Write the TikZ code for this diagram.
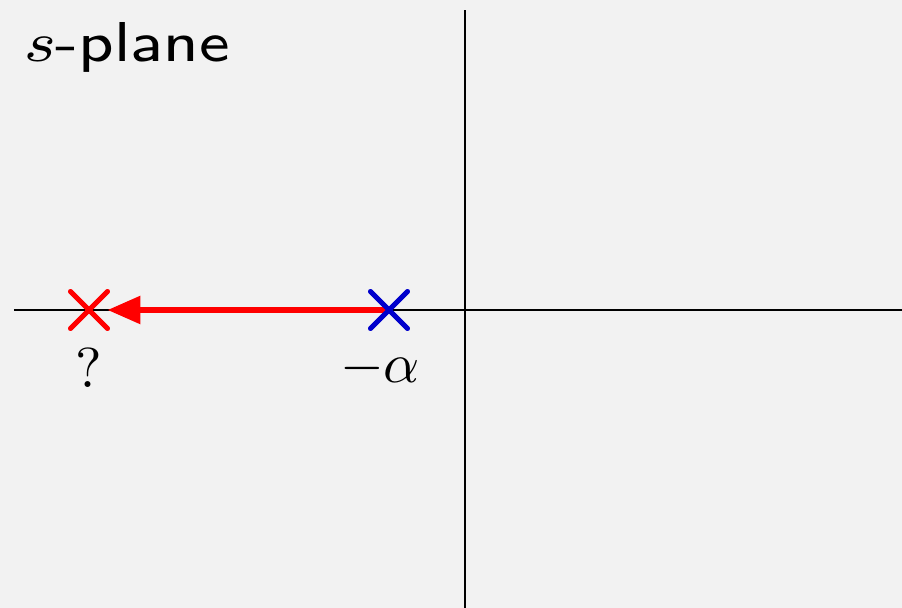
\documentclass[tikz,border=0pt]{standalone}
\usetikzlibrary{arrows.meta,shapes.misc}
\definecolor{bggray}{HTML}{F2F2F2}
\definecolor{polered}{HTML}{FF0000}
\definecolor{poleblue}{HTML}{0000CC}
\tikzset{
  pole/.style={cross out,draw,line width=2.8pt,line cap=round,minimum size=0.64cm,inner sep=0pt},
  axis/.style={line width=1.5pt},
  lbl/.style={scale=3.2}
}
\begin{document}
\begin{tikzpicture}
    \fill[bggray] (-9.3,-5.96) rectangle (8.74,6.2);
    \useasboundingbox (-9.3,-5.96) rectangle (8.74,6.2);
    \draw[axis] (-9.02,0) -- (8.74,0);
    \draw[axis] (0,-5.96) -- (0,6.0);

    \node[anchor=base west,font=\sffamily\footnotesize,xscale=4.6,yscale=4.0,inner sep=0pt] (title) at (-8.85,4.96) {$s$-plane};

    \node[pole,draw=poleblue] (alpha) at (-1.52,0) {};
    \node[pole,draw=polered] (unknown) at (-7.52,0) {};
    \draw[polered,line width=3.3pt,-{Triangle[length=0.66cm,width=0.54cm]}] (alpha.center) -- (unknown);
    \node[pole,draw=polered] at (unknown) {};
    \node[pole,draw=poleblue] at (alpha) {};

    \node[lbl] (qlabel) at (-7.52,-1.16) {$?$};
    \node[lbl] (alabel) at (-1.7,-1.16) {$-\alpha$};
\end{tikzpicture}
\end{document}
